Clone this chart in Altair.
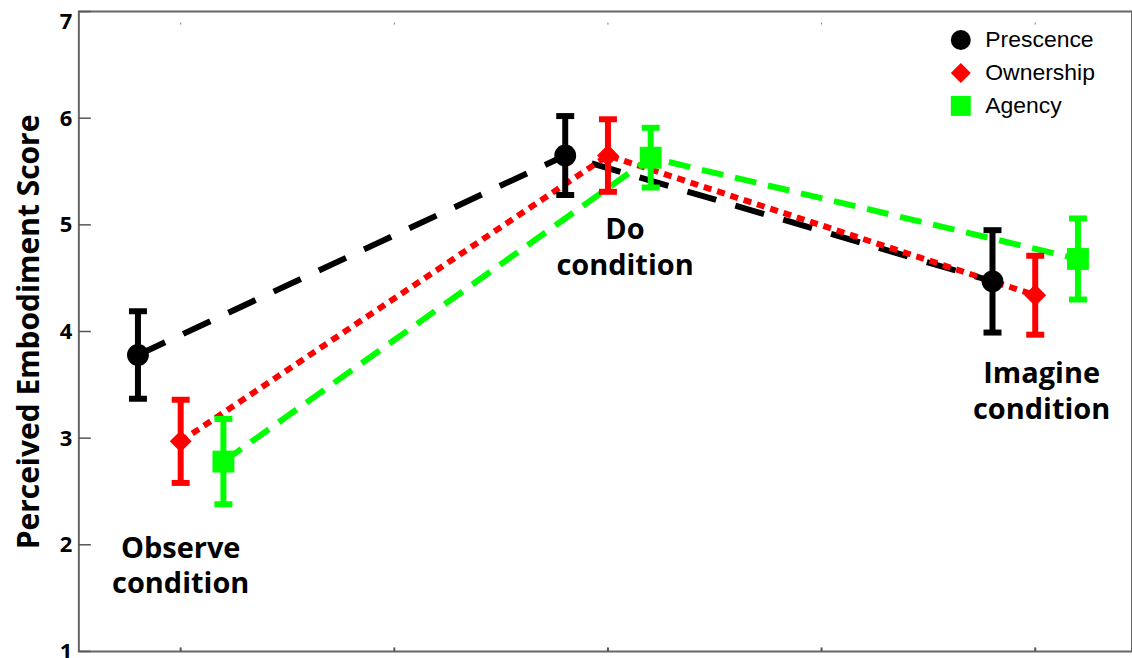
import altair as alt
import pandas as pd

# Study conditions and their positions on the x scale
conditions = ["Observe", "Do", "Imagine"]
condition_pos = [1, 3, 5]

# Measures, with horizontal jitter so error bars don't overlap
measures = ["Prescence", "Ownership", "Agency"]
measure_offset = [-0.2, 0.0, 0.2]
measure_colors = ["#000000", "#ff0000", "#00ff00"]
measure_dash = [[30, 20], [8, 6], [22, 12]]

# Mean scores (rows: measures, columns: conditions)
presence_mean = [3.78, 5.65, 4.47]
ownership_mean = [2.97, 5.65, 4.34]
agency_mean = [2.78, 5.63, 4.68]

# Error-bar half widths
presence_err = [0.41, 0.37, 0.48]
ownership_err = [0.39, 0.34, 0.37]
agency_err = [0.40, 0.28, 0.38]

# Axis ticks
y_ticks = [1, 2, 3, 4, 5, 6, 7]
x_ticks = [1, 2, 3, 4, 5]

# Condition captions placed in data units
caption_text = ["Observe\ncondition", "Do\ncondition", "Imagine\ncondition"]
caption_x = [1.0, 3.08, 5.03]
caption_y = [1.965, 4.95, 3.6]

means = [presence_mean, ownership_mean, agency_mean]
errs = [presence_err, ownership_err, agency_err]

rows = []
for mi, m in enumerate(measures):
    for ci, c in enumerate(conditions):
        rows.append({
            "measure": m,
            "condition": c,
            "x": condition_pos[ci] + measure_offset[mi],
            "mean": means[mi][ci],
            "lo": means[mi][ci] - errs[mi][ci],
            "hi": means[mi][ci] + errs[mi][ci],
        })
df = pd.DataFrame(rows)

# Plot area; the right edge of the frame sits just past the visible page
W, H = 1055, 641
x_scale = alt.Scale(domain=[0.5234, 5.453], nice=False, zero=False)
y_scale = alt.Scale(domain=[1, 7], nice=False, zero=False)

colors = alt.Scale(domain=measures, range=measure_colors)
shapes = alt.Scale(domain=measures, range=["circle", "diamond", "square"])

y_axis = alt.Axis(
    values=y_ticks, format="d", ticks=False, grid=False, domain=False,
    labelFont="Open Sans", labelFontWeight="bold", labelFontSize=22,
    labelColor="#000000", labelPadding=7,
    labelBaseline={"expr": "datum.value == 7 ? 'top' : 'middle'"},
    title="Perceived Embodiment Score",
    titleFont="Open Sans", titleFontWeight="bold", titleFontSize=30, titleColor="#000000",
    titlePadding=15,
)
legend = alt.Legend(
    title=None, orient="none", legendX=872, legendY=17, padding=0,
    labelFont="Liberation Sans", labelFontSize=23, labelColor="#000000",
    symbolSize=400, symbolOpacity=1, rowPadding=9, labelOffset=13,
    symbolStrokeWidth=0,
)

X = lambda f: alt.X(f, scale=x_scale, axis=None)
Y = lambda f: alt.Y(f, scale=y_scale, axis=y_axis)
C = alt.Color("measure:N", scale=colors, legend=legend)

base = alt.Chart(df)

# One dashed connector per measure
line_layers = []
for m, col, dash in zip(measures, measure_colors, measure_dash):
    line_layers.append(
        base.transform_filter(alt.datum.measure == m)
        .mark_line(strokeWidth=6, strokeCap="butt", color=col, strokeDash=dash, opacity=1)
        .encode(x=X("x:Q"), y=Y("mean:Q"), order="x:Q")
    )

bars = base.mark_rule(strokeWidth=6, opacity=1).encode(
    x=X("x:Q"), y=Y("lo:Q"), y2="hi:Q", color=C
)
caps_lo = base.mark_tick(orient="horizontal", size=18, thickness=6, opacity=1).encode(
    x=X("x:Q"), y=Y("lo:Q"), color=C
)
caps_hi = base.mark_tick(orient="horizontal", size=18, thickness=6, opacity=1).encode(
    x=X("x:Q"), y=Y("hi:Q"), color=C
)
points = base.mark_point(filled=True, opacity=1, size=480).encode(
    x=X("x:Q"), y=Y("mean:Q"), color=C,
    shape=alt.Shape("measure:N", scale=shapes, legend=legend),
)

# Inward tick marks on the y axis
ytick_df = pd.DataFrame({"v": y_ticks})
yticks = alt.Chart(ytick_df).mark_rule(color="#555555", strokeWidth=1.5).encode(
    y=Y("v:Q"), x=alt.value(0), x2=alt.value(12)
)

# Small inward ticks on the bottom and top borders
xtick_df = pd.DataFrame({"v": x_ticks})
xticks_bottom = alt.Chart(xtick_df).mark_rule(color="#555555", strokeWidth=2).encode(
    x=X("v:Q"), y=alt.value(H - 4), y2=alt.value(H)
)
xticks_top = alt.Chart(xtick_df).mark_rule(color="#777777", strokeWidth=1).encode(
    x=X("v:Q"), y=alt.value(11), y2=alt.value(13)
)

cap_df = pd.DataFrame({"label": caption_text, "x": caption_x, "y": caption_y})
captions = alt.Chart(cap_df).mark_text(
    font="Open Sans", fontWeight="bold", fontSize=29, color="#000000",
    align="center", baseline="middle", lineHeight=36, lineBreak="\n",
).encode(x=X("x:Q"), y=Y("y:Q"), text="label:N")

chart = alt.layer(
    yticks, xticks_bottom, xticks_top, captions,
    *line_layers, bars, caps_lo, caps_hi, points,
).properties(
    width=W, height=H,
    autosize=alt.AutoSizeParams(type="none"),
    padding={"left": 79, "top": 11, "right": 0, "bottom": 6},
    background="#ffffff",
).configure_view(stroke="#666666", strokeWidth=2)

chart.save("out.html", embed_options={"renderer": "svg", "actions": False})
